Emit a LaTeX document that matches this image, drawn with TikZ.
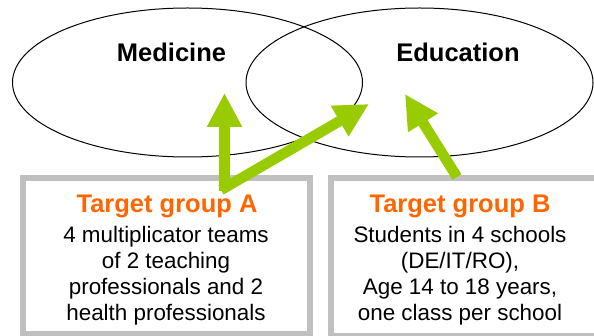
\documentclass[tikz,border=0pt]{standalone}
\usepackage{fontspec}
\setmainfont{Liberation Sans}
\usetikzlibrary{shapes.geometric,arrows.meta}
\definecolor{arrowgreen}{HTML}{99CC00}
\definecolor{titleorange}{HTML}{FF6600}
\definecolor{boxgray}{HTML}{C0C0C0}
\begin{document}
\begin{tikzpicture}[x=1pt,y=-1pt,
  field/.style={ellipse, draw=black, line width=1pt, inner sep=0pt, minimum height=149pt},
  fieldlabel/.style={anchor=base, inner sep=0pt, font=\fontsize{25.5}{30}\selectfont\bfseries},
  tgbox/.style={rectangle, draw=boxgray, line width=6pt, inner sep=0pt},
  tgtitle/.style={anchor=base, inner sep=0pt, text=titleorange, font=\fontsize{25.5}{30}\selectfont\bfseries},
  tgline/.style={anchor=base, inner sep=0pt, font=\fontsize{22.4}{26}\selectfont},
  bigarrow/.style={draw=arrowgreen, line width=10.5pt, -{Triangle[width=33pt,length=34pt]}}
]
\useasboundingbox (0,0) rectangle (594,336);
\clip (0,0) rectangle (594,336);
\fill[white] (0,0) rectangle (594,336);

% fields
\node[field, minimum width=350pt] (med) at (187.5,82.5) {};
\node[field, minimum width=347pt] (edu) at (419.5,82.5) {};
\node[fieldlabel] (medlbl) at (171.5,62) {Medicine};
\node[fieldlabel] (edulbl) at (458,62) {Education};

% target group boxes
\node[tgbox, minimum width=287pt, minimum height=156pt] (boxA) at (166.5,256) {};
\node[tgbox, minimum width=279pt, minimum height=158pt] (boxB) at (470.5,257) {};

\node[tgtitle] (titA) at (167,213) {Target group A};
\node[tgline] (a1) at (166,243) {4 multiplicator teams};
\node[tgline] (a2) at (166,269) {of 2 teaching};
\node[tgline] (a3) at (166,295) {professionals and 2};
\node[tgline] (a4) at (166,321) {health professionals};

\node[tgtitle] (titB) at (460,213) {Target group B};
\node[tgline] (b1) at (460,243) {Students in 4 schools};
\node[tgline] (b2) at (460,269) {(DE/IT/RO),};
\node[tgline] (b3) at (460,295) {Age 14 to 18 years,};
\node[tgline] (b4) at (460,321) {one class per school};

% arrows
\coordinate (srcA1) at (224.5,191);
\coordinate (srcA2) at (221,190);
\coordinate (srcB) at (457,177);
\coordinate (medT) at (224.5,93);
\coordinate (overT) at (369,104);
\coordinate (eduT) at (405,94);
\draw[bigarrow] (srcA1) -- (medT);
\draw[bigarrow] (srcA2) -- (overT);
\draw[bigarrow] (srcB) -- (eduT);
\end{tikzpicture}
\end{document}
